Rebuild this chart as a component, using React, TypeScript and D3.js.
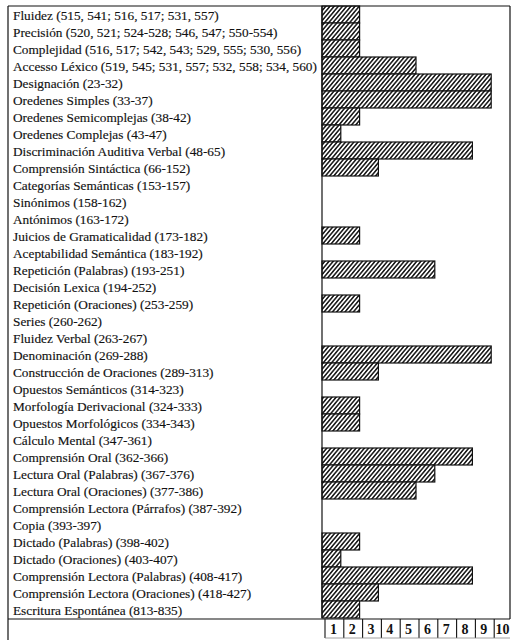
import React from "react";
import * as d3 from "d3";

const categories: string[] = [
  "Fluidez (515, 541; 516, 517; 531, 557)",
  "Precisión (520, 521; 524-528; 546, 547; 550-554)",
  "Complejidad (516, 517; 542, 543; 529, 555; 530, 556)",
  "Accesso Léxico (519, 545; 531, 557; 532, 558; 534, 560)",
  "Designación (23-32)",
  "Oredenes Simples (33-37)",
  "Oredenes Semicomplejas (38-42)",
  "Oredenes Complejas (43-47)",
  "Discriminación Auditiva Verbal (48-65)",
  "Comprensión Sintáctica (66-152)",
  "Categorías Semánticas (153-157)",
  "Sinónimos (158-162)",
  "Antónimos (163-172)",
  "Juicios de Gramaticalidad (173-182)",
  "Aceptabilidad Semántica (183-192)",
  "Repetición (Palabras) (193-251)",
  "Decisión Lexica (194-252)",
  "Repetición (Oraciones) (253-259)",
  "Series (260-262)",
  "Fluidez Verbal (263-267)",
  "Denominación (269-288)",
  "Construcción de Oraciones (289-313)",
  "Opuestos Semánticos (314-323)",
  "Morfología Derivacional (324-333)",
  "Opuestos Morfológicos (334-343)",
  "Cálculo Mental (347-361)",
  "Comprensión Oral (362-366)",
  "Lectura Oral (Palabras) (367-376)",
  "Lectura Oral (Oraciones) (377-386)",
  "Comprensión Lectora (Párrafos) (387-392)",
  "Copia (393-397)",
  "Dictado (Palabras) (398-402)",
  "Dictado (Oraciones) (403-407)",
  "Comprensión Lectora (Palabras) (408-417)",
  "Comprensión Lectora (Oraciones) (418-427)",
  "Escritura Espontánea (813-835)",
];

const values: number[] = [
  2, 2, 2, 5, 9, 9, 2, 1, 8, 3,
  0, 0, 0, 2, 0, 6, 0, 2, 0, 0,
  9, 3, 0, 2, 2, 0, 8, 6, 5, 0,
  0, 2, 1, 8, 3, 2,
];

const tickLabels: number[] = [1, 2, 3, 4, 5, 6, 7, 8, 9, 10];

export default function App() {
  const W = 512;
  const H = 640;
  const left = 8;
  const top = 6;
  const right = 510;
  const barX0 = 322;
  const rowH = 17;
  const plotBottom = top + rowH * categories.length; // 618
  const axisBottom = 638;

  const x = d3.scaleLinear().domain([0, 10]).range([barX0, right]);
  const y = d3
    .scaleBand<string>()
    .domain(categories)
    .range([top, plotBottom])
    .paddingInner(0)
    .paddingOuter(0);

  const font = "'Liberation Serif', 'Times New Roman', serif";
  const ink = "#111";

  return (
    <svg
      width={W}
      height={H}
      viewBox={`0 0 ${W} ${H}`}
      style={{ position: "absolute", left: 0, top: 0, display: "block", background: "#fff" }}
    >
      <defs>
        <pattern
          id="hatch"
          patternUnits="userSpaceOnUse"
          width={3.2}
          height={6}
          patternTransform="rotate(40)"
        >
          <rect width={3.2} height={6} fill="#fff" />
          <line x1={0.8} y1={0} x2={0.8} y2={6} stroke={ink} strokeWidth={1.5} />
        </pattern>
      </defs>
      <rect x={0} y={0} width={W} height={H} fill="#fff" />

      {/* bars */}
      {categories.map((c, i) =>
        values[i] > 0 ? (
          <rect
            key={"b" + i}
            x={x(0)}
            y={y(c)!}
            width={x(values[i]) - x(0)}
            height={y.bandwidth()}
            fill="url(#hatch)"
            stroke={ink}
            strokeWidth={1.2}
          />
        ) : null
      )}

      {/* frame */}
      <line x1={left} y1={top} x2={right} y2={top} stroke={ink} strokeWidth={1.2} />
      <line x1={left} y1={top} x2={left} y2={H} stroke={ink} strokeWidth={1.2} />
      <line x1={right} y1={top} x2={right} y2={plotBottom + 1} stroke={ink} strokeWidth={1.2} />
      <line x1={x(0)} y1={top} x2={x(0)} y2={plotBottom} stroke={ink} strokeWidth={1.2} />
      <line x1={left} y1={plotBottom + 1} x2={right} y2={plotBottom + 1} stroke={ink} strokeWidth={1.2} />

      {/* labels */}
      {categories.map((c) => (
        <text
          key={"t" + c}
          x={13}
          y={y(c)! + 14}
          fontFamily={font}
          fontSize={13.3}
          fill={ink}
          stroke={ink}
          strokeWidth={0.15}
        >
          {c}
        </text>
      ))}

      {/* axis cells */}
      {tickLabels.map((t) => (
        <g key={"a" + t}>
          <line
            x1={x(t - 1) + 3}
            y1={plotBottom + 1}
            x2={x(t - 1) + 3}
            y2={axisBottom}
            stroke={ink}
            strokeWidth={1.1}
          />
          <text
            x={(x(t - 1) + x(t)) / 2 + 2}
            y={plotBottom + 16}
            textAnchor="middle"
            fontFamily={font}
            fontSize={14}
            fontWeight="bold"
            fill={ink}
          >
            {t}
          </text>
        </g>
      ))}
      <line x1={x(0) + 3} y1={axisBottom} x2={right} y2={axisBottom} stroke="#888" strokeWidth={0.8} />
    </svg>
  );
}
